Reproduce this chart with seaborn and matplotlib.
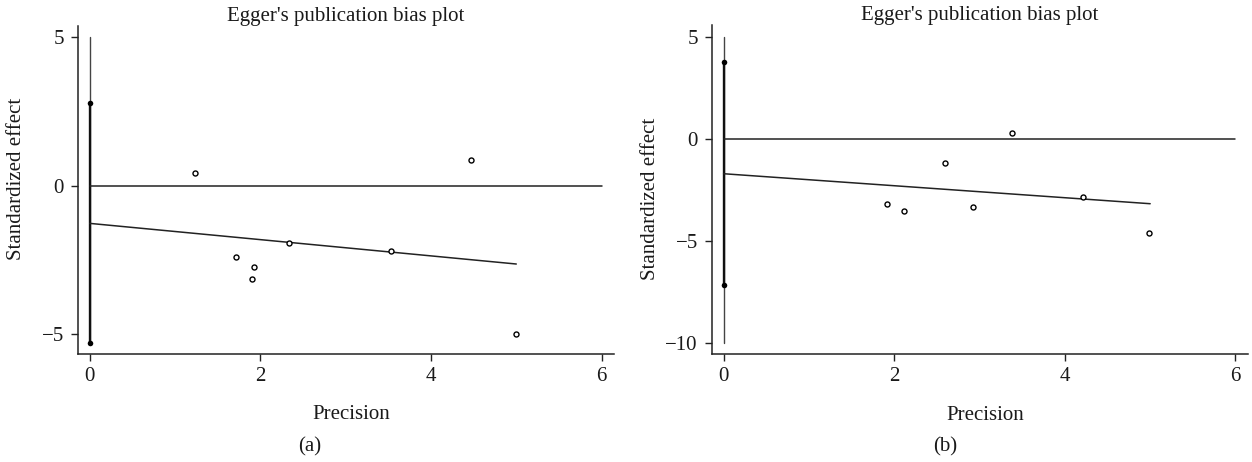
import numpy as np
import pandas as pd
import seaborn as sns
import matplotlib.pyplot as plt

# Panel (a) data
prec_a = [1.24, 1.72, 1.92, 1.90, 2.34, 3.53, 4.47, 5.00]
eff_a = [0.42, -2.39, -2.75, -3.13, -1.93, -2.19, 0.85, -4.99]
fit_x_a = [0.0, 5.0]
fit_y_a = [-1.27, -2.64]
ci_a = [2.80, -5.30]
vline_a = [5.0, -5.30]

# Panel (b) data
prec_b = [1.92, 2.12, 2.59, 2.92, 3.38, 4.21, 4.99]
eff_b = [-3.16, -3.52, -1.16, -3.31, 0.29, -2.83, -4.60]
fit_x_b = [0.0, 5.0]
fit_y_b = [-1.69, -3.16]
ci_b = [3.81, -7.14]
vline_b = [5.0, -10.0]

xticks = [0, 2, 4, 6]
yticks_a = [-5, 0, 5]
yticks_b = [-10, -5, 0, 5]

sns.set_style("ticks")
plt.rcParams['font.family'] = ['Liberation Serif', 'DejaVu Serif']

fig = plt.figure(figsize=(12.52, 4.62), dpi=100)
ax_a = fig.add_axes([0.0621, 0.2327, 0.4283, 0.7121])
ax_b = fig.add_axes([0.5684, 0.2327, 0.4283, 0.7132])

line_col = '#222222'
txt_col = '#1a1a1a'


def draw_panel(ax, prec, eff, fit_x, fit_y, ci, vline, yticks, ylim, ylab_y):
    # thin vertical line at precision 0
    sns.lineplot(x=[0, 0], y=vline, ax=ax, color='#444444', lw=1.0,
                 estimator=None, sort=False)
    # thick confidence interval of the intercept
    sns.lineplot(x=[0, 0], y=ci, ax=ax, color='#111111', lw=1.7,
                 estimator=None, sort=False)
    sns.scatterplot(x=[0, 0], y=ci, ax=ax, color='black', s=16, marker='o',
                    edgecolor='black', linewidth=0, zorder=5)
    # zero line
    sns.lineplot(x=[0, 6], y=[0, 0], ax=ax, color=line_col, lw=1.1, estimator=None)
    # regression line
    sns.lineplot(x=fit_x, y=fit_y, ax=ax, color=line_col, lw=1.1, estimator=None)
    # studies
    sns.scatterplot(x=prec, y=eff, ax=ax, marker='o', s=13, facecolor='white',
                    edgecolor='black', linewidth=1.0, zorder=6)

    ax.set_xlim(-0.14, 6.145)
    ax.set_ylim(*ylim)
    ax.set_xticks(xticks)
    ax.set_yticks(yticks)
    ax.set_yticklabels([f"{t}".replace('-', '\u2212') for t in yticks])
    ax.tick_params(axis='both', direction='out', length=5, width=1, color=line_col,
                   labelsize=15, labelcolor=txt_col)
    ax.tick_params(axis='y', pad=5)
    ax.tick_params(axis='x', pad=4)
    for s in ['left', 'bottom']:
        ax.spines[s].set_color(line_col)
        ax.spines[s].set_linewidth(1.1)
    sns.despine(ax=ax)
    ax.set_title("Egger's publication bias plot", fontsize=15, pad=1, color=txt_col)
    ax.set_xlabel("Precision", fontsize=15, color=txt_col)
    ax.set_ylabel("Standardized effect", fontsize=15, color=txt_col)
    ax.xaxis.set_label_coords(0.51, -0.155)
    ax.yaxis.set_label_coords(-0.097, ylab_y)


draw_panel(ax_a, prec_a, eff_a, fit_x_a, fit_y_a, ci_a, vline_a, yticks_a, (-5.69, 5.40), 0.535)
draw_panel(ax_b, prec_b, eff_b, fit_x_b, fit_y_b, ci_b, vline_b, yticks_b, (-10.55, 5.60), 0.473)

fig.text(310 / 1252, 1 - 447 / 462, "(a)", ha='center', va='center', fontsize=15, color=txt_col)
fig.text(945 / 1252, 1 - 447 / 462, "(b)", ha='center', va='center', fontsize=15, color=txt_col)

fig.savefig("out.png", dpi=100)
